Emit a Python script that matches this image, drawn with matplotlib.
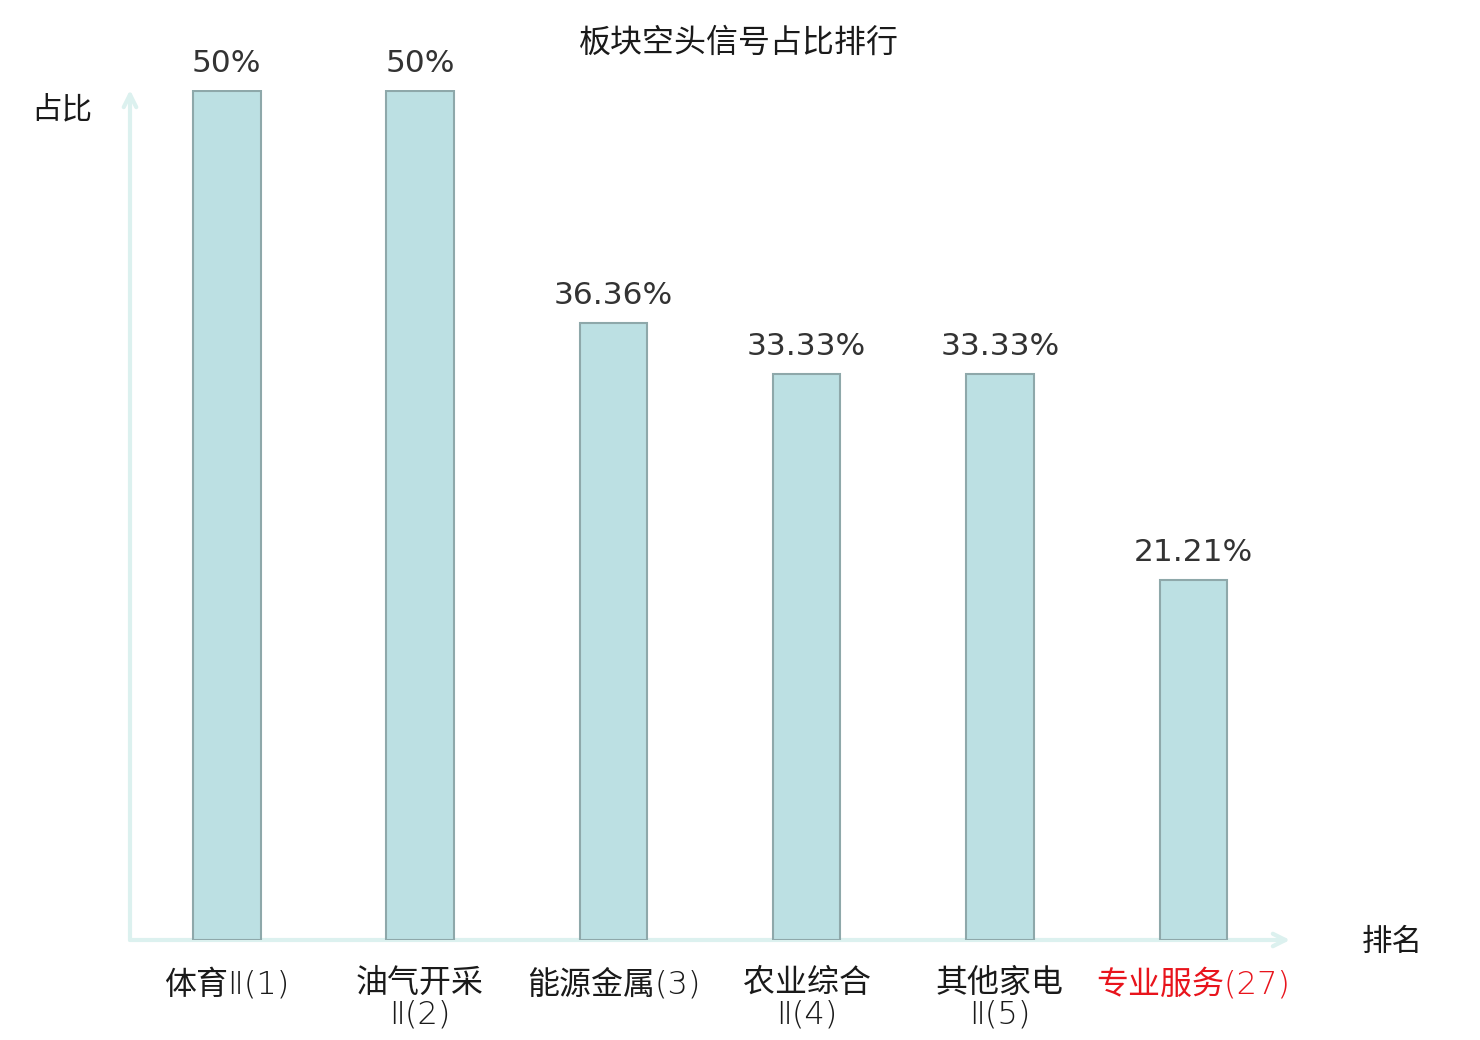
import matplotlib
matplotlib.use("Agg")
import matplotlib.pyplot as plt

plt.rcParams["font.family"] = ["Noto Sans CJK SC", "DejaVu Sans"]

CATEGORIES = ["体育Ⅱ(1)", "油气开采\nⅡ(2)", "能源金属(3)", "农业综合\nⅡ(4)", "其他家电\nⅡ(5)", "专业服务(27)"]
VALUES = [50, 50, 36.36, 33.33, 33.33, 21.21]
VALUE_LABELS = ["50%", "50%", "36.36%", "33.33%", "33.33%", "21.21%"]
HIGHLIGHT = [False, False, False, False, False, True]

AXIS_COLOR = "#dcf1ef"
BAR_COLOR = "#bce0e3"
BAR_EDGE = "#8ea8aa"
LATIN_FIRST = ["DejaVu Sans", "Noto Sans CJK SC"]

fig = plt.figure(figsize=(14.8, 10.4), dpi=100)
ax = fig.add_axes([130 / 1480, 1 - 940 / 1040, 1160 / 1480, 850 / 1040])

x = range(len(CATEGORIES))
ax.bar(x, VALUES, width=0.35, color=BAR_COLOR, edgecolor=BAR_EDGE, linewidth=1.5, zorder=3)
for xi, v, lab in zip(x, VALUES, VALUE_LABELS):
    ax.text(xi, v + 0.75, lab, ha="center", va="bottom", fontsize=22.5, color="#333333",
            fontfamily=LATIN_FIRST)

ax.set_xlim(-0.5, 5.5)
ax.set_ylim(0, 50.06)
for s in ax.spines.values():
    s.set_visible(False)
ax.set_yticks([])
ax.set_xticks(list(x))
ax.set_xticklabels(CATEGORIES, fontsize=23, linespacing=1.07, fontfamily=LATIN_FIRST,
                   fontweight="light")
ax.tick_params(axis="x", length=0, pad=20)
for t, hl in zip(ax.get_xticklabels(), HIGHLIGHT):
    t.set_color("#e8141c" if hl else "#1a1a1a")
    t.set_verticalalignment("top")

# axis arrows
arrow = dict(arrowstyle="->,head_length=0.9,head_width=0.45", color=AXIS_COLOR, lw=3,
             shrinkA=0, shrinkB=0)
ax.annotate("", xy=(1.0, 0), xytext=(0, 0), xycoords="axes fraction",
            textcoords="axes fraction", arrowprops=arrow, zorder=1)
ax.annotate("", xy=(0, 1.0), xytext=(0, 0), xycoords="axes fraction",
            textcoords="axes fraction", arrowprops=arrow, zorder=1)

fig.text(62 / 1480, 1 - 110 / 1040, "占比", ha="center", va="center", fontsize=22, color="#1a1a1a")
fig.text(1392 / 1480, 1 - 942 / 1040, "排名", ha="center", va="center", fontsize=22, color="#1a1a1a")
fig.text(739 / 1480, 1 - 43 / 1040, "板块空头信号占比排行", ha="center", va="center", fontsize=23,
         color="#1a1a1a")

fig.savefig("out.png", dpi=100)
